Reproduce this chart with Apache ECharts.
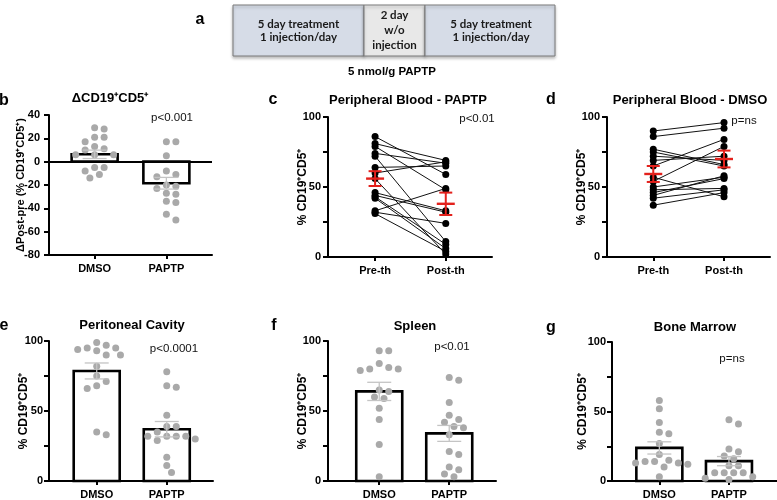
<!DOCTYPE html>
<html><head><meta charset="utf-8">
<script src="https://cdn.jsdelivr.net/npm/echarts@6/dist/echarts.min.js"></script>
<style>html,body{margin:0;padding:0;background:#fff}#c{width:777px;height:500px}</style>
</head><body><div id="c"></div>
<script>
// ---------- data ----------
const barCats = ['DMSO', 'PAPTP'];
const pairCats = ['Pre-th', 'Post-th'];

// b: delta post-pre
const bDmso = [29, 28, 21, 21, 17, 13, 11, 10, 6, 6, 6, -5, -5, -8, -11, -14];
const bPaptp = [17, 17, 5, -8, -11, -13, -20, -21, -23, -27, -28, -35, -34, -45, -50];
const bMean = [6.3, -18.5];
const bSem = [3.6, 5.0];
const bTicks = [-80, 40, 20];

// c: peripheral blood PAPTP (paired)
const cPre = [86, 81, 79, 74, 72, 64, 60, 56, 46, 44, 43, 42, 33, 32, 31];
const cPost = [59, 69, 48, 67, 11, 65, 68, 2, 33, 32, 9, 6, 49, 24, 4];
const cMean = [56, 38];
const cSem = [5.3, 8.0];

// d: peripheral blood DMSO (paired)
const dPre = [90, 86, 77, 75, 72, 69, 65, 57, 54, 50, 48, 46, 44, 42, 37];
const dPost = [96, 92, 66, 65, 69, 72, 84, 43, 79, 57, 49, 56, 58, 48, 46];
const dMean = [59.3, 70];
const dSem = [5.7, 6.0];

// e: peritoneal cavity
const eDmso = [99, 97, 95, 95, 94, 93, 90, 90, 82, 75, 71, 68, 66, 35, 33];
const ePaptp = [78, 68, 67, 47, 39, 39, 35, 32, 32, 32, 32, 30, 29, 17, 11, 6];
const eMean = [78.6, 37];
const eSem = [5.7, 5.5];

// f: spleen
const fDmso = [93, 93, 84, 81, 80, 80, 79, 65, 64, 60, 59, 52, 44, 26, 3];
const fPaptp = [74, 72, 56, 47, 44, 42, 39, 38, 33, 21, 19, 10, 8, 5, 3];
const fMean = [64, 34];
const fSem = [6.5, 5.7];

// g: bone marrow
const gDmso = [58, 52, 42, 35, 34, 27, 19, 15, 14, 14, 13, 13, 12, 10, 3];
const gPaptp = [44, 41, 23, 21, 18, 16, 11, 11, 6, 6, 6, 6, 3, 2, 1];
const gMean = [23.8, 14.3];
const gSem = [4.4, 3.3];

const pctTicks = [0, 100, 25];
const pValues = ['p<0.001', 'p<0.01', 'p=ns', 'p<0.0001', 'p<0.01', 'p=ns'];
const titles = ['\u0394CD19\u207ACD5\u207A', 'Peripheral Blood - PAPTP', 'Peripheral Blood - DMSO',
  'Peritoneal Cavity', 'Spleen', 'Bone Marrow'];
const yNames = ['\u0394Post-pre (% CD19\u207ACD5\u207A)', '% CD19\u207ACD5\u207A', '% CD19\u207ACD5\u207A',
  '% CD19\u207ACD5\u207A', '% CD19\u207ACD5\u207A', '% CD19\u207ACD5\u207A'];
const letters = ['b', 'c', 'd', 'e', 'f', 'g'];

// ---------- layout ----------
const FONT = "'Liberation Sans', Arial, Helvetica, sans-serif";
const grids = [
  {left: 49, top: 115, width: 163, height: 140},
  {left: 328, top: 117, width: 164, height: 140},
  {left: 607, top: 117, width: 163, height: 140},
  {left: 49, top: 341, width: 164, height: 140},
  {left: 328, top: 341, width: 168, height: 140},
  {left: 612, top: 342, width: 165, height: 140}
];
const xRanges = [[0.364, 2.636], [0.334, 2.654], [0.346, 2.65], [0.319, 2.66], [0.268, 2.668], [0.32, 2.69]];
const nameGaps = [22.5, 19.5, 19.5, 19.5, 19.5, 23.5];
const labelMargins = [9, 7, 7, 6, 7, 6];
const titlePos = [[110, 98], [408, 100], [690, 100], [132, 325], [415, 326], [695, 327]];
const letterPos = [[4, 101], [273, 100], [551, 100], [4, 326], [274, 326], [551, 328]];
const pPos = [[172, 118], [477, 119], [744, 121], [174, 349], [452, 347], [732, 359]];

const DOT = 7;
function swarmData(values, center, gi, yr) {
  const g = grids[gi];
  const pxX = g.width / (xRanges[gi][1] - xRanges[gi][0]);
  const pxY = g.height / (yr[1] - yr[0]);
  const step = 9.5, minD = 7.6;
  const idx = values.map((v, i) => i).sort((a, b) => values[b] - values[a]);
  const placed = [];
  const out = [];
  idx.forEach(i => {
    const yp = values[i] * pxY;
    for (let k = 0; k < 60; k++) {
      const m = Math.ceil(k / 2) * (k % 2 === 1 ? 1 : -1);
      const xp = m * step / 2;
      if (placed.every(p => (p[0] - xp) ** 2 + (p[1] - yp) ** 2 >= minD * minD)) {
        placed.push([xp, yp]); out.push([center + xp / pxX, values[i]]); break;
      }
    }
  });
  return out;
}

const xAxes = [], yAxes = [], series = [];
grids.forEach((g, gi) => {
  const cats = (gi === 1 || gi === 2) ? pairCats : barCats;
  xAxes.push({
    type: 'value', gridIndex: gi, min: xRanges[gi][0], max: xRanges[gi][1],
    axisLine: {show: true, onZero: false, lineStyle: {color: '#000', width: 2}},
    axisTick: {show: true, customValues: [1, 2], length: 4, lineStyle: {color: '#000', width: 2}},
    axisLabel: {customValues: [1, 2], formatter: v => cats[Math.round(v) - 1], color: '#000',
      fontWeight: 'bold', fontSize: 11, fontFamily: FONT, margin: 8},
    splitLine: {show: false}
  });
  const yt = gi === 0 ? bTicks : pctTicks;
  yAxes.push({
    type: 'value', gridIndex: gi, min: yt[0], max: yt[1], interval: yt[2],
    axisLine: {show: true, lineStyle: {color: '#000', width: 2}},
    axisTick: {show: true, length: 5, lineStyle: {color: '#000', width: 2}},
    axisLabel: {formatter: v => (gi === 0 || v % 50 === 0) ? String(v) : '', color: '#000',
      fontWeight: 'bold', fontSize: 11, fontFamily: FONT, margin: labelMargins[gi]},
    splitLine: {show: false},
    name: yNames[gi], nameLocation: 'middle', nameRotate: 90, nameGap: nameGaps[gi],
    nameMoveOverlap: false,
    nameTextStyle: {color: '#000', fontWeight: 'bold', fontSize: gi === 0 ? 11 : 12, fontFamily: FONT}
  });
});

// bar panels
const barPanels = [[0, bDmso, bPaptp, bMean, bSem, [-80, 40]], [3, eDmso, ePaptp, eMean, eSem, [0, 100]],
  [4, fDmso, fPaptp, fMean, fSem, [0, 100]], [5, gDmso, gPaptp, gMean, gSem, [0, 100]]];
barPanels.forEach(([gi, a, b, mean, sem, yr]) => {
  series.push({
    type: 'custom', xAxisIndex: gi, yAxisIndex: gi, z: 2, silent: true,
    data: mean.map((m, i) => [i + 1, m]),
    renderItem: (params, api) => {
      const p0 = api.coord([api.value(0), 0]);
      const p1 = api.coord([api.value(0), api.value(1)]);
      return {type: 'rect', shape: {x: p0[0] - 23, y: Math.min(p0[1], p1[1]), width: 46, height: Math.abs(p1[1] - p0[1])},
        style: {fill: '#fff', stroke: '#000', lineWidth: 2.6}};
    }
  });
  const pts = swarmData(a, 1, gi, yr).concat(swarmData(b, 2, gi, yr));
  const sc = {
    type: 'scatter', xAxisIndex: gi, yAxisIndex: gi, z: 3, silent: true, symbolSize: DOT,
    itemStyle: {color: '#a9a9a9', opacity: 1}, data: pts
  };
  if (gi === 0) {
    sc.markLine = {silent: true, symbol: 'none', label: {show: false}, animation: false,
      lineStyle: {color: '#000', width: 2, type: 'solid'}, data: [{yAxis: 0}]};
  }
  series.push(sc);
  series.push({
    type: 'custom', xAxisIndex: gi, yAxisIndex: gi, z: 4, silent: true,
    data: mean.map((m, i) => [i + 1, m, sem[i]]),
    renderItem: (params, api) => {
      const x = api.value(0), m = api.value(1), s = api.value(2);
      const lo = api.coord([x, m - s]), hi = api.coord([x, m + s]);
      const st = {stroke: '#c4c4c4', lineWidth: 1.3};
      return {type: 'group', children: [
        {type: 'line', shape: {x1: lo[0], y1: lo[1], x2: hi[0], y2: hi[1]}, style: st},
        {type: 'line', shape: {x1: lo[0] - 12, y1: lo[1], x2: lo[0] + 12, y2: lo[1]}, style: st},
        {type: 'line', shape: {x1: hi[0] - 12, y1: hi[1], x2: hi[0] + 12, y2: hi[1]}, style: st}
      ]};
    }
  });
});

// paired panels
[[1, cPre, cPost, cMean, cSem], [2, dPre, dPost, dMean, dSem]].forEach(([gi, pre, post, mean, sem]) => {
  series.push({
    type: 'custom', xAxisIndex: gi, yAxisIndex: gi, z: 3, silent: true,
    data: pre.map((v, i) => [v, post[i]]),
    renderItem: (params, api) => {
      const p1 = api.coord([1, api.value(0)]), p2 = api.coord([2, api.value(1)]);
      return {type: 'group', children: [
        {type: 'line', shape: {x1: p1[0], y1: p1[1], x2: p2[0], y2: p2[1]}, style: {stroke: '#111', lineWidth: 1}},
        {type: 'circle', shape: {cx: p1[0], cy: p1[1], r: DOT / 2}, style: {fill: '#000'}},
        {type: 'circle', shape: {cx: p2[0], cy: p2[1], r: DOT / 2}, style: {fill: '#000'}}
      ]};
    }
  });
  series.push({
    type: 'custom', xAxisIndex: gi, yAxisIndex: gi, z: 5, silent: true,
    data: mean.map((m, i) => [i + 1, m, sem[i]]),
    renderItem: (params, api) => {
      const x = api.value(0), m = api.value(1), s = api.value(2);
      const lo = api.coord([x, m - s]), hi = api.coord([x, m + s]), c = api.coord([x, m]);
      const st = {stroke: '#e3211c', lineWidth: 2};
      return {type: 'group', children: [
        {type: 'line', shape: {x1: lo[0], y1: lo[1], x2: hi[0], y2: hi[1]}, style: st},
        {type: 'line', shape: {x1: lo[0] - 6.5, y1: lo[1], x2: lo[0] + 6.5, y2: lo[1]}, style: st},
        {type: 'line', shape: {x1: hi[0] - 6.5, y1: hi[1], x2: hi[0] + 6.5, y2: hi[1]}, style: st},
        {type: 'line', shape: {x1: c[0] - 9, y1: c[1], x2: c[0] + 9, y2: c[1]}, style: {stroke: '#e3211c', lineWidth: 2.4}}
      ]};
    }
  });
});

// ---------- text & panel a ----------
const graphics = [];
titles.forEach((t, i) => graphics.push({type: 'text', x: titlePos[i][0], y: titlePos[i][1],
  style: {text: t, font: 'bold 13px ' + FONT, fill: '#000', textAlign: 'center', textVerticalAlign: 'middle'}}));
letters.forEach((t, i) => graphics.push({type: 'text', x: letterPos[i][0], y: letterPos[i][1],
  style: {text: t, font: 'bold 16px ' + FONT, fill: '#000', textAlign: 'center', textVerticalAlign: 'middle'}}));
pValues.forEach((t, i) => graphics.push({type: 'text', x: pPos[i][0], y: pPos[i][1],
  style: {text: t, font: '11.5px ' + FONT, fill: '#111', textAlign: 'center', textVerticalAlign: 'middle'}}));

const boxFont = 'bold 11.5px Lato, ' + FONT;
[[233, 131, '#d6dce7'], [364, 61, '#e8e8e8'], [425, 130, '#d6dce7']].forEach(b => graphics.push({
  type: 'rect', shape: {x: b[0], y: 5, width: b[1], height: 51},
  style: {fill: b[2], stroke: '#7a7a7a', lineWidth: 1, shadowBlur: 3, shadowOffsetY: 2, shadowColor: 'rgba(0,0,0,0.25)'}
}));
graphics.push({type: 'text', x: 298.5, y: 31, style: {text: '5 day treatment\n1 injection/day', font: boxFont, fill: '#1a1a1a',
  textAlign: 'center', textVerticalAlign: 'middle', lineHeight: 13.5}});
graphics.push({type: 'text', x: 394.5, y: 30, style: {text: '2 day\nw/o\ninjection', font: boxFont, fill: '#1a1a1a',
  textAlign: 'center', textVerticalAlign: 'middle', lineHeight: 15}});
graphics.push({type: 'text', x: 491, y: 31, style: {text: '5 day treatment\n1 injection/day', font: boxFont, fill: '#1a1a1a',
  textAlign: 'center', textVerticalAlign: 'middle', lineHeight: 13.5}});
graphics.push({type: 'text', x: 392, y: 72, style: {text: '5 nmol/g PAPTP', font: 'bold 11.5px ' + FONT, fill: '#000',
  textAlign: 'center', textVerticalAlign: 'middle'}});
graphics.push({type: 'text', x: 200, y: 20, style: {text: 'a', font: 'bold 16px ' + FONT, fill: '#000',
  textAlign: 'center', textVerticalAlign: 'middle'}});

const chart = echarts.init(document.getElementById('c'), null, {renderer: 'canvas'});
chart.setOption({
  animation: false,
  backgroundColor: '#fff',
  textStyle: {fontFamily: FONT},
  grid: grids,
  xAxis: xAxes,
  yAxis: yAxes,
  series: series,
  graphic: {elements: graphics}
});
</script></body></html>
